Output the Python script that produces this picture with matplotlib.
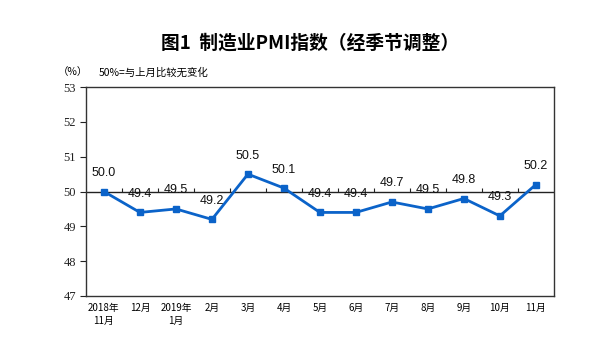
import numpy as np
import matplotlib.pyplot as plt

plt.rcParams['font.family'] = ['Noto Sans CJK SC', 'DejaVu Sans']

months = ['2018年\n11月', '12月', '2019年\n1月', '2月', '3月', '4月', '5月',
          '6月', '7月', '8月', '9月', '10月', '11月']
pmi = [50.0, 49.4, 49.5, 49.2, 50.5, 50.1, 49.4, 49.4, 49.7, 49.5, 49.8, 49.3, 50.2]
yticks = [47, 48, 49, 50, 51, 52, 53]

blue = '#0b63c9'
x = np.arange(len(pmi))

fig = plt.figure(figsize=(6.14, 3.47), dpi=100)
ax = fig.add_axes([0.140, 0.147, 0.762, 0.602])

# 50 baseline with small category ticks
ax.axhline(50, color='#222222', lw=1.0, zorder=1)
ax.vlines(x[:-1] + 0.5, 50, 50.1, color='#222222', lw=0.8, zorder=1)

ax.plot(x, pmi, color=blue, lw=2, marker='s', ms=4.5, zorder=3)
for xi, v in zip(x, pmi):
    ax.annotate('%.1f' % v, (xi, v), xytext=(0, 9), textcoords='offset points',
                ha='center', va='bottom', fontsize=9, family='Liberation Sans',
                color='#111111')

ax.set_xlim(-0.5, len(pmi) - 0.5)
ax.set_ylim(47, 53)
ax.set_yticks(yticks)
ax.set_yticklabels([str(t) for t in yticks], family='Liberation Serif', fontsize=9)
ax.set_xticks(x)
ax.set_xticklabels(months, fontsize=7, linespacing=1.4)
ax.tick_params(axis='x', length=0, pad=5)
ax.tick_params(axis='y', length=4, width=0.8, direction='out', pad=3, colors='#222222')
for s in ax.spines.values():
    s.set_color('#333333')
    s.set_linewidth(1.0)

fig.text(0.505, 0.876, '图1  制造业PMI指数（经季节调整）', ha='center', va='center',
         fontsize=13.5, fontweight='bold')
fig.text(0.094, 0.792, '（%）', ha='left', va='center', fontsize=7.5)
fig.text(0.160, 0.792, '50%=与上月比较无变化', ha='left', va='center', fontsize=7.5)

fig.savefig('out.png', dpi=100)
